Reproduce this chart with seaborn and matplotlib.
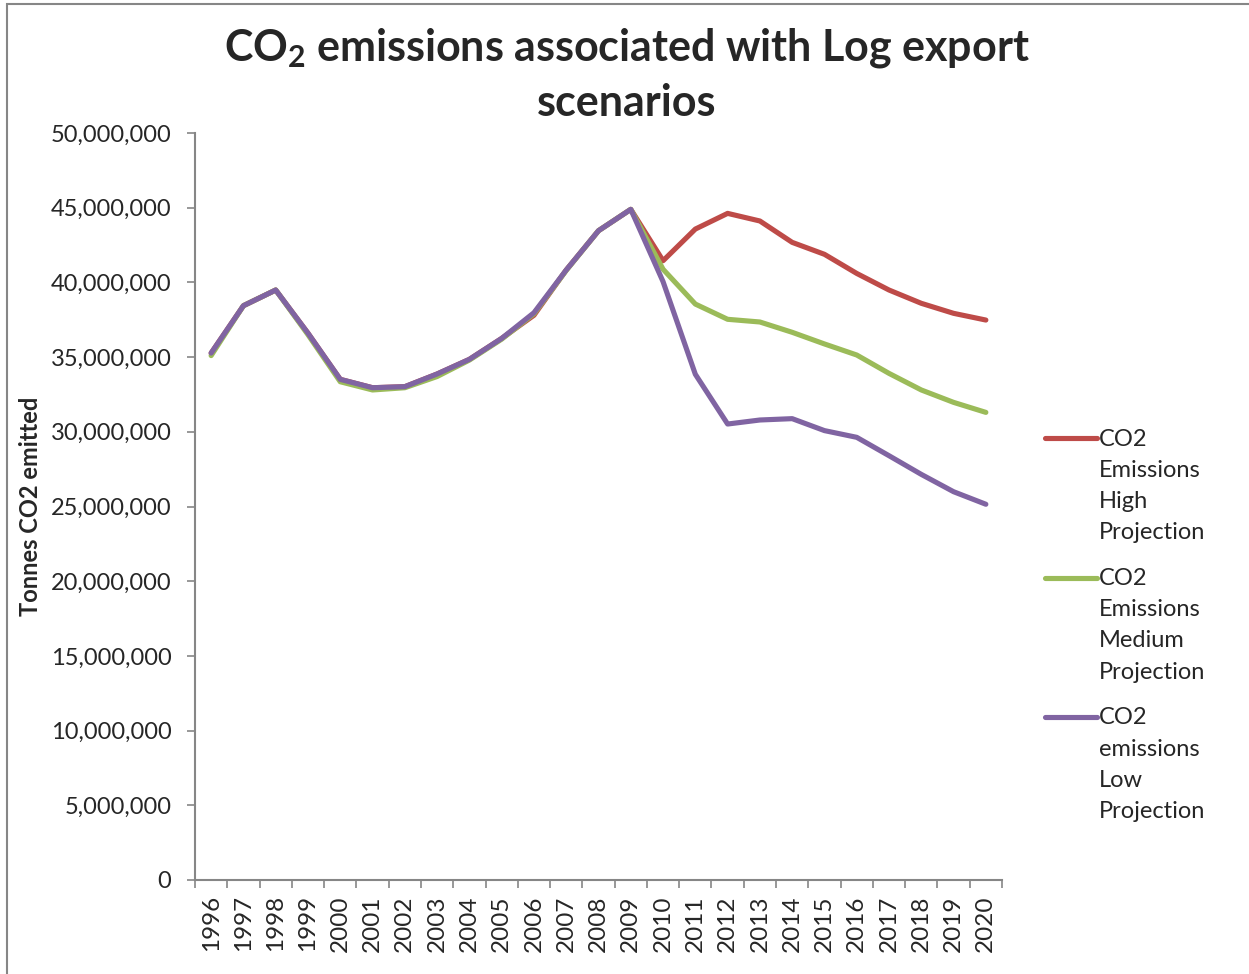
import numpy as np
import pandas as pd
import matplotlib
matplotlib.use('Agg')
import matplotlib.pyplot as plt
from matplotlib.patches import Rectangle
from matplotlib.legend_handler import HandlerLine2D
from matplotlib.ticker import FuncFormatter, FixedLocator
import seaborn as sns

years = list(range(1996, 2021))

high = [35.27, 38.44, 39.49, 36.6, 33.51, 32.95, 33.02, 33.87, 34.85, 36.25, 37.8,
        40.83, 43.46, 44.89, 41.45, 43.57, 44.62, 44.11, 42.68, 41.88, 40.60,
        39.49, 38.60, 37.93, 37.48]
medium = [35.1, 38.44, 39.49, 36.5, 33.35, 32.8, 32.95, 33.7, 34.8, 36.2, 37.9,
          40.8, 43.46, 44.89, 40.88, 38.55, 37.53, 37.35, 36.66, 35.88, 35.14,
          33.91, 32.80, 31.97, 31.30]
low = [35.27, 38.44, 39.49, 36.6, 33.51, 32.95, 33.02, 33.87, 34.85, 36.25, 37.97,
       40.83, 43.46, 44.89, 40.05, 33.85, 30.52, 30.79, 30.88, 30.08, 29.63,
       28.40, 27.15, 25.99, 25.15]

series_names = ['CO2\nEmissions\nHigh\nProjection',
                'CO2\nEmissions\nMedium\nProjection',
                'CO2\nemissions\nLow\nProjection']
colors = ['#BE4B48', '#9BBB59', '#8064A2']

df = pd.DataFrame({'pos': np.arange(len(years))})
long = pd.concat([
    pd.DataFrame({'pos': df['pos'], 'value': np.array(v) * 1e6, 'series': n})
    for v, n in zip([high, medium, low], series_names)
])

sns.set_style('white')
plt.rcParams['font.family'] = ['Lato', 'DejaVu Sans']
plt.rcParams['mathtext.fontset'] = 'custom'
plt.rcParams['mathtext.rm'] = 'Lato:bold'
plt.rcParams['mathtext.bf'] = 'Lato:bold'

fig = plt.figure(figsize=(12.49, 9.74), dpi=100)
ax = fig.add_axes([195 / 1249, 1 - 880 / 974, (1002 - 195) / 1249, (880 - 133) / 974])

sns.lineplot(data=long, x='pos', y='value', hue='series', palette=colors,
             linewidth=3.7, ax=ax, sort=False, estimator=None)

ax.set_xlim(-0.5, len(years) - 0.5)
ax.set_ylim(0, 50e6)
ax.set_yticks(np.arange(0, 50e6 + 1, 5e6))
ax.yaxis.set_major_formatter(FuncFormatter(lambda v, p: f'{v:,.0f}'))
ax.tick_params(axis='y', labelsize=17, length=6, width=1.2, color='#868686',
               direction='out', left=True, pad=11)

ax.xaxis.set_major_locator(FixedLocator(np.arange(-0.5, len(years), 1.0)))
ax.xaxis.set_major_formatter(FuncFormatter(lambda v, p: ''))
ax.xaxis.set_minor_locator(FixedLocator(np.arange(len(years))))
ax.set_xticklabels([str(y) for y in years], minor=True, rotation=90)
ax.tick_params(axis='x', which='major', length=6, width=1.2, color='#868686',
               direction='out', bottom=True)
ax.tick_params(axis='x', which='minor', length=0, labelsize=17.5, pad=11, bottom=True)

for s in ['top', 'right']:
    ax.spines[s].set_visible(False)
for s in ['left', 'bottom']:
    ax.spines[s].set_color('#868686')
    ax.spines[s].set_linewidth(1.5)

ax.set_xlabel('')
ax.set_ylabel('Tonnes CO2 emitted', fontsize=17, fontweight='bold', labelpad=6)

LINE_PT = 23.0


class FirstLineHandler(HandlerLine2D):
    def create_artists(self, legend, orig_handle, xdescent, ydescent, width,
                       height, fontsize, trans):
        arts = super().create_artists(legend, orig_handle, xdescent, ydescent,
                                      width, height, fontsize, trans)
        for a in arts:
            y = a.get_ydata()
            a.set_ydata(np.asarray(y) + 1.5 * LINE_PT)
        return arts


handles, labels = ax.get_legend_handles_labels()
leg = ax.legend(handles, labels, loc='center left', bbox_to_anchor=(1045 / 1249, 0.358),
                bbox_transform=fig.transFigure, frameon=False, fontsize=17,
                handlelength=2.2, handletextpad=0.1, labelspacing=1.05,
                borderpad=0, borderaxespad=0,
                handler_map={h: FirstLineHandler() for h in handles})
for t in leg.get_texts():
    t.set_linespacing(1.6)
for h in leg.legend_handles:
    h.set_linewidth(3.7)

fig.text(627 / 1249, 1 - 48 / 974,
         r'CO$_\mathbf{2}$ emissions associated with Log export', ha='center',
         va='center', fontsize=31, fontweight='bold')
fig.text(627 / 1249, 1 - 103 / 974, 'scenarios', ha='center', va='center',
         fontsize=31, fontweight='bold')

fig.patches.append(Rectangle((7 / 1249, -0.05), 1.0, 1 - 4 / 974 + 0.05,
                             transform=fig.transFigure, fill=False,
                             edgecolor='#868686', linewidth=1.5, clip_on=False))

fig.savefig('out.png', dpi=100)
